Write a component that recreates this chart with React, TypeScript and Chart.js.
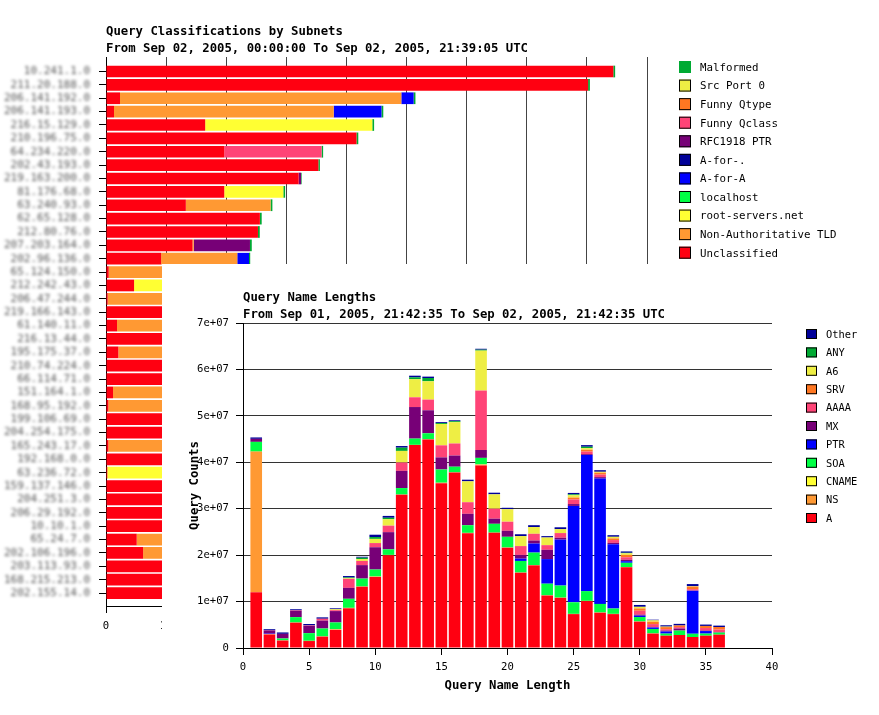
import React, { useEffect, useRef } from 'react';
import { Chart, registerables } from 'chart.js';

Chart.register(...registerables);

const MONO = '"DejaVu Sans Mono", "Liberation Mono", monospace';

// ---------------- Top chart: Query Classifications by Subnets ----------------
const subnetTitle = 'Query Classifications by Subnets';
const subnetSubtitle = 'From Sep 02, 2005, 00:00:00 To Sep 02, 2005, 21:39:05 UTC';

const subnets = [
  '10.241.1.0', '211.20.188.0', '206.141.192.0', '206.141.193.0', '216.15.129.0',
  '210.196.75.0', '64.234.220.0', '202.43.193.0', '219.163.200.0', '81.176.68.0',
  '63.240.93.0', '62.65.128.0', '212.80.76.0', '207.203.164.0', '202.96.136.0',
  '65.124.150.0', '212.242.43.0', '206.47.244.0', '219.166.143.0', '61.140.11.0',
  '216.13.44.0', '195.175.37.0', '210.74.224.0', '66.114.71.0', '151.164.1.0',
  '168.95.192.0', '199.106.69.0', '204.254.175.0', '165.243.17.0', '192.168.0.0',
  '63.236.72.0', '159.137.146.0', '204.251.3.0', '206.29.192.0', '10.10.1.0',
  '65.24.7.0', '202.106.196.0', '203.113.93.0', '168.215.213.0', '202.155.14.0',
];

const unclassified = [84.4, 80.2, 2.33, 1.33, 16.5, 41.67, 19.67, 35.33, 32.05, 19.67, 13.28, 25.6, 25.28, 14.4, 9.17, 0.45, 4.67, 0.28, 21.9, 1.83, 20.7, 2.05, 19.7, 19.1, 1.17, 0.39, 17.6, 17.1, 0.39, 16.5, 0.22, 15.8, 15.3, 14.9, 14.6, 5.11, 6.17, 13.6, 13.2, 12.9];
const nonAuthTld = [0, 0, 46.8, 36.55, 0, 0, 0, 0, 0, 0, 14.1, 0, 0, 0.2, 12.67, 22.9, 0, 22.0, 0, 19.4, 0, 18.1, 0, 0, 17.4, 17.8, 0, 0, 16.4, 0, 0, 0, 0, 0, 0, 9.1, 7.8, 0, 0, 0];
const rootServers = [0, 0, 0, 0, 27.8, 0, 0, 0, 0, 9.83, 0, 0, 0, 0, 0, 0, 18.3, 0, 0, 0, 0, 0, 0, 0, 0, 0, 0, 0, 0, 0, 15.9, 0, 0, 0, 0, 0, 0, 0, 0, 0];
const localhost = [0, 0, 0, 0, 0, 0, 0, 0, 0, 0, 0, 0, 0, 0, 0, 0, 0, 0, 0, 0, 0, 0, 0, 0, 0, 0, 0, 0, 0, 0, 0, 0, 0, 0, 0, 0, 0, 0, 0, 0];
const aForA = [0, 0, 2.05, 7.95, 0, 0, 0, 0, 0, 0, 0, 0, 0, 0, 1.95, 0, 0, 0, 0, 0, 0, 0, 0, 0, 0, 0, 0, 0, 0, 0, 0, 0, 0, 0, 0, 0, 0, 0, 0, 0];
const aForDot = [0, 0, 0, 0, 0, 0, 0, 0, 0, 0, 0, 0, 0, 0, 0, 0, 0, 0, 0, 0, 0, 0, 0, 0, 0, 0, 0, 0, 0, 0, 0, 0, 0, 0, 0, 0, 0, 0, 0, 0];
const rfc1918Ptr = [0, 0, 0, 0, 0, 0, 0, 0, 0.4, 0, 0, 0, 0, 9.35, 0, 0, 0, 0, 0, 0, 0, 0, 0, 0, 0, 0, 0, 0, 0, 0, 0, 0, 0, 0, 0, 0, 0, 0, 0, 0];
const funnyQclass = [0, 0, 0, 0, 0, 0, 16.2, 0, 0, 0, 0, 0, 0, 0, 0, 0, 0, 0, 0, 0, 0, 0, 0, 0, 0, 0, 0, 0, 0, 0, 0, 0, 0, 0, 0, 0, 0, 0, 0, 0];
const funnyQtype = [0, 0, 0, 0, 0, 0, 0, 0, 0, 0, 0, 0, 0, 0, 0, 0, 0, 0, 0, 0, 0, 0, 0, 0, 0, 0, 0, 0, 0, 0, 0, 0, 0, 0, 0, 0, 0, 0, 0, 0];
const srcPort0 = [0, 0, 0, 0, 0, 0, 0, 0, 0, 0, 0, 0, 0, 0, 0, 0, 0, 0, 0, 0, 0, 0, 0, 0, 0, 0, 0, 0, 0, 0, 0, 0, 0, 0, 0, 0, 0, 0, 0, 0];
const malformed = [0.3, 0.3, 0.3, 0.3, 0.3, 0.3, 0.25, 0.25, 0.1, 0.3, 0.3, 0.3, 0.3, 0.3, 0.2, 0.2, 0.2, 0.2, 0.2, 0.2, 0.2, 0.2, 0.2, 0.2, 0.2, 0.1, 0.2, 0.2, 0.2, 0.2, 0.1, 0.2, 0.2, 0.2, 0.1, 0.2, 0.1, 0.2, 0.2, 0.2];

// stacking order (left to right)
const subnetSeries = [
  { label: 'Unclassified', color: '#ff0011', values: unclassified },
  { label: 'Non-Authoritative TLD', color: '#ff9933', values: nonAuthTld },
  { label: 'root-servers.net', color: '#ffff33', values: rootServers },
  { label: 'localhost', color: '#00ff44', values: localhost },
  { label: 'A-for-A', color: '#0000ff', values: aForA },
  { label: 'A-for-.', color: '#000099', values: aForDot },
  { label: 'RFC1918 PTR', color: '#770077', values: rfc1918Ptr },
  { label: 'Funny Qclass', color: '#ff4477', values: funnyQclass },
  { label: 'Funny Qtype', color: '#ff7722', values: funnyQtype },
  { label: 'Src Port 0', color: '#eeee44', values: srcPort0 },
  { label: 'Malformed', color: '#00aa33', values: malformed },
];

// ---------------- Lower chart: Query Name Lengths ----------------
const lengthTitle = 'Query Name Lengths';
const lengthSubtitle = 'From Sep 01, 2005, 21:42:35 To Sep 02, 2005, 21:42:35 UTC';

const nameLengths = [1, 2, 3, 4, 5, 6, 7, 8, 9, 10, 11, 12, 13, 14, 15, 16, 17, 18, 19, 20, 21, 22, 23, 24, 25, 26, 27, 28, 29, 30, 31, 32, 33, 34, 35, 36];
// counts in millions
const qA = [12.0, 2.9, 1.6, 5.45, 1.5, 2.45, 3.9, 8.55, 13.2, 15.3, 20.0, 33.0, 43.7, 44.9, 35.5, 37.8, 24.7, 39.3, 24.8, 21.6, 16.2, 17.8, 11.3, 10.8, 7.3, 10.1, 7.6, 7.3, 17.4, 5.67, 3.1, 2.65, 2.8, 2.37, 2.65, 2.87];
const qNS = [30.3, 0.1, 0.05, 0.05, 0.05, 0.05, 0.1, 0.1, 0.05, 0.1, 0.05, 0.05, 0.05, 0.05, 0.1, 0.05, 0.1, 0.2, 0.05, 0.05, 0.05, 0.05, 0.05, 0.05, 0.05, 0.05, 0.05, 0.05, 0.05, 0.05, 0.05, 0, 0, 0, 0, 0];
const qCNAME = [0, 0, 0, 0, 0, 0, 0.05, 0, 0, 0, 0, 0, 0, 0, 0, 0, 0, 0.05, 0, 0, 0, 0, 0, 0, 0, 0, 0, 0, 0, 0, 0, 0, 0, 0, 0, 0];
const qSOA = [2.1, 0, 0.4, 1.15, 1.65, 1.7, 1.45, 1.95, 1.7, 1.5, 1.2, 1.4, 1.35, 1.3, 2.85, 1.2, 1.65, 1.4, 1.9, 2.3, 2.5, 2.7, 2.5, 2.6, 2.5, 2.1, 1.85, 1.15, 0.9, 0.95, 0.95, 0.45, 0.95, 0.7, 0.45, 0.45];
const qPTR = [0, 0.1, 0, 0, 0, 0, 0, 0, 0, 0, 0, 0, 0, 0, 0, 0, 0, 0, 0, 0, 0.5, 1.95, 5.3, 9.9, 20.75, 29.3, 27.0, 13.85, 0.35, 0.3, 0.3, 0.45, 0, 9.25, 0.55, 0];
const qMX = [0.65, 0.7, 1.0, 1.4, 1.57, 1.7, 2.45, 2.35, 2.9, 4.8, 3.7, 3.7, 6.8, 4.95, 2.6, 2.4, 2.45, 1.7, 1.1, 1.3, 0.8, 0.65, 2.0, 0.4, 0.4, 0.2, 0.3, 0.3, 0.3, 0.2, 0.1, 0.2, 0.45, 0.05, 0.1, 0.1];
const qAAAA = [0, 0.05, 0, 0.1, 0.1, 0.4, 0.2, 1.95, 0.9, 0.9, 1.4, 1.8, 2.1, 2.3, 2.6, 2.6, 2.5, 12.8, 2.15, 1.95, 1.9, 1.45, 1.0, 1.0, 1.0, 0.55, 0.55, 0.6, 0.55, 0.85, 0.65, 0.3, 0.3, 0.3, 0.55, 0.55];
const qSRV = [0, 0, 0, 0, 0, 0, 0, 0, 0, 0, 0, 0, 0, 0, 0, 0, 0, 0, 0, 0, 0, 0, 0, 0, 0.4, 0.4, 0.4, 0.35, 0.5, 0.5, 0.5, 0.45, 0.35, 0.55, 0.45, 0.55];
const qA6 = [0, 0, 0, 0, 0, 0, 0.2, 0.15, 0.4, 0.9, 1.4, 2.5, 3.9, 3.95, 4.6, 4.6, 4.5, 8.6, 3.1, 2.7, 2.15, 1.45, 1.65, 0.85, 0.5, 0.35, 0.2, 0.35, 0.35, 0.35, 0.3, 0.1, 0, 0.1, 0, 0];
const qANY = [0, 0, 0, 0, 0, 0, 0, 0.15, 0.3, 0.4, 0.3, 0.7, 0.4, 0.7, 0.2, 0.2, 0, 0.2, 0, 0, 0, 0, 0, 0, 0.2, 0.3, 0, 0, 0.1, 0, 0, 0, 0, 0, 0, 0];
const qOther = [0.3, 0.2, 0.3, 0.2, 0.3, 0.3, 0.2, 0.3, 0.2, 0.5, 0.4, 0.35, 0.35, 0.3, 0.2, 0.2, 0.35, 0.2, 0.35, 0.3, 0.4, 0.4, 0.3, 0.4, 0.3, 0.35, 0.35, 0.35, 0.3, 0.4, 0.15, 0.3, 0.35, 0.45, 0.3, 0.3];

const lengthSeries = [
  { label: 'A', color: '#ff0011', values: qA },
  { label: 'NS', color: '#ff9933', values: qNS },
  { label: 'CNAME', color: '#ffff33', values: qCNAME },
  { label: 'SOA', color: '#00ff44', values: qSOA },
  { label: 'PTR', color: '#0000ff', values: qPTR },
  { label: 'MX', color: '#770077', values: qMX },
  { label: 'AAAA', color: '#ff4477', values: qAAAA },
  { label: 'SRV', color: '#ff7722', values: qSRV },
  { label: 'A6', color: '#eeee44', values: qA6 },
  { label: 'ANY', color: '#00aa33', values: qANY },
  { label: 'Other', color: '#000099', values: qOther },
];

function drawLegend(
  ctx: CanvasRenderingContext2D,
  items: { label: string; color: string }[],
  boxX: number, boxY: number, boxW: number, boxH: number,
  textX: number, step: number, font: string, noBorder: string[] = []
) {
  ctx.save();
  ctx.font = font;
  ctx.textBaseline = 'middle';
  ctx.textAlign = 'left';
  items.forEach((it, i) => {
    const y = boxY + i * step;
    ctx.fillStyle = it.color;
    ctx.fillRect(boxX, y, boxW, boxH);
    if (!noBorder.includes(it.label)) {
      ctx.strokeStyle = '#000';
      ctx.lineWidth = 1;
      ctx.strokeRect(boxX + 0.5, y + 0.5, boxW - 1, boxH - 1);
    }
    ctx.fillStyle = '#000';
    ctx.fillText(it.label, textX, y + boxH / 2 + 1);
  });
  ctx.restore();
}

const expLabel = (v: number) =>
  v === 0 ? '0' : (v * 1e6).toExponential(0).replace(/e\+(\d)$/, 'e+0$1');

export default function App() {
  const topRef = useRef<HTMLCanvasElement>(null);
  const lowRef = useRef<HTMLCanvasElement>(null);

  useEffect(() => {
    Chart.defaults.color = '#000';

    const topPlugin = {
      id: 'topDecor',
      afterDraw(chart: any) {
        const ctx = chart.ctx as CanvasRenderingContext2D;
        ctx.save();
        ctx.fillStyle = '#000';
        ctx.font = `bold 12.3px ${MONO}`;
        ctx.textBaseline = 'middle';
        ctx.textAlign = 'left';
        ctx.fillText(subnetTitle, 106, 31.5);
        ctx.fillText(subnetSubtitle, 106, 49);
        // blurred subnet labels
        const ys = chart.scales.y;
        ctx.filter = 'blur(1.6px)';
        ctx.fillStyle = '#555';
        ctx.font = `11px ${MONO}`;
        ctx.textAlign = 'right';
        subnets.forEach((s, i) => ctx.fillText(s, 90, ys.getPixelForValue(i)));
        ctx.restore();
        const legendItems = subnetSeries.slice().reverse().map((s) => ({ label: s.label, color: s.color }));
        drawLegend(ctx, legendItems, 679, 61, 12, 12, 700, 18.57, `10.8px ${MONO}`, ['Malformed']);
      },
    };

    const top = new Chart(topRef.current!, {
      type: 'bar',
      data: {
        datasets: subnetSeries.map((s) => ({
          label: s.label,
          data: subnets.map((_, i) => ({ x: s.values[i], y: i })),
          backgroundColor: s.color,
          borderWidth: 0,
          barPercentage: 0.875,
          categoryPercentage: 1,
        })),
      },
      options: {
        indexAxis: 'y',
        animation: false,
        responsive: false,
        devicePixelRatio: 1,
        layout: { autoPadding: false, padding: { left: 0, top: 57, right: 232, bottom: 79 } },
        plugins: { legend: { display: false }, tooltip: { enabled: false }, title: { display: false } },
        scales: {
          x: {
            type: 'linear',
            position: 'bottom',
            min: 0,
            max: 90,
            stacked: true,
            offset: false,
            ticks: { stepSize: 10, font: { family: MONO, size: 10.6 }, color: '#000', padding: 7 },
            grid: { offset: false, color: '#444', lineWidth: 1, drawTicks: true, tickLength: 7, tickColor: '#000' },
            border: { display: true, color: '#000' },
            afterFit: (sc: any) => { sc.height = 30; },
          },
          y: {
            type: 'linear',
            reverse: true,
            min: -1.085,
            max: 39.97,
            stacked: true,
            offset: false,
            afterBuildTicks: (sc: any) => { sc.ticks = subnets.map((_, i) => ({ value: i })); },
            ticks: { display: false },
            grid: { offset: false, drawOnChartArea: false, drawTicks: true, tickLength: 7, color: '#000' },
            border: { display: true, color: '#000' },
            afterFit: (sc: any) => { sc.width = 106; },
          },
        },
      } as any,
      plugins: [topPlugin],
    });

    const lowPlugin = {
      id: 'lowDecor',
      afterDraw(chart: any) {
        const ctx = chart.ctx as CanvasRenderingContext2D;
        const ca = chart.chartArea;
        ctx.save();
        ctx.fillStyle = '#000';
        ctx.font = `bold 12.3px ${MONO}`;
        ctx.textBaseline = 'middle';
        ctx.textAlign = 'left';
        ctx.fillText(lengthTitle, ca.left, 33.5);
        ctx.fillText(lengthSubtitle, ca.left, 51);
        ctx.textAlign = 'center';
        ctx.fillText('Query Name Length', (ca.left + ca.right) / 2, 422);
        ctx.translate(33, (ca.top + ca.bottom) / 2);
        ctx.rotate(-Math.PI / 2);
        ctx.fillText('Query Counts', 0, 0);
        ctx.restore();
        const legendItems = lengthSeries.slice().reverse().map((s) => ({ label: s.label, color: s.color }));
        drawLegend(ctx, legendItems, 644, 65, 11, 10, 664, 18.4, `10.4px ${MONO}`);
      },
    };

    const low = new Chart(lowRef.current!, {
      type: 'bar',
      data: {
        datasets: lengthSeries.map((s) => ({
          label: s.label,
          data: nameLengths.map((L, i) => ({ x: L, y: s.values[i] })),
          backgroundColor: s.color,
          borderWidth: 0,
          barPercentage: 0.88,
          categoryPercentage: 1,
        })),
      },
      options: {
        animation: false,
        responsive: false,
        devicePixelRatio: 1,
        layout: { autoPadding: false, padding: { left: 0, top: 59, right: 107, bottom: 27 } },
        plugins: { legend: { display: false }, tooltip: { enabled: false }, title: { display: false } },
        scales: {
          x: {
            type: 'linear',
            min: 0,
            max: 40,
            stacked: true,
            offset: false,
            ticks: { stepSize: 5, font: { family: MONO, size: 10.6 }, color: '#000', padding: 6 },
            grid: { offset: false, drawOnChartArea: false, drawTicks: true, tickLength: 7, color: '#000' },
            border: { display: true, color: '#000' },
            afterFit: (sc: any) => { sc.height = 40; },
          },
          y: {
            type: 'linear',
            min: 0,
            max: 70,
            stacked: true,
            ticks: {
              stepSize: 10,
              font: { family: MONO, size: 10.6 },
              color: '#000',
              padding: 7,
              callback: (v: any) => expLabel(Number(v)),
            },
            grid: { color: '#333', lineWidth: 1, drawTicks: true, tickLength: 7, tickColor: '#000' },
            border: { display: true, color: '#000' },
            afterFit: (sc: any) => { sc.width = 81; },
          },
        },
      } as any,
      plugins: [lowPlugin],
    });

    return () => {
      top.destroy();
      low.destroy();
    };
  }, []);

  return (
    <div style={{ position: 'absolute', left: 0, top: 0, width: 879, height: 715, background: '#fff', overflow: 'hidden' }}>
      <canvas
        ref={topRef}
        width={879}
        height={715}
        style={{ position: 'absolute', left: 0, top: 0, width: 879, height: 715 }}
      />
      <canvas
        ref={lowRef}
        width={717}
        height={451}
        style={{ position: 'absolute', left: 162, top: 264, width: 717, height: 451, background: '#fff' }}
      />
    </div>
  );
}
